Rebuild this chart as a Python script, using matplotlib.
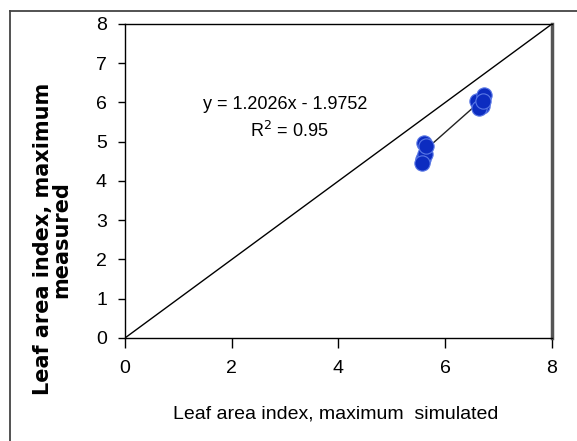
import numpy as np
import matplotlib.pyplot as plt
from matplotlib.lines import Line2D

# measured vs simulated maximum leaf area index
sim = [5.58, 5.62, 5.60, 5.57, 5.64, 6.60, 6.68, 6.72, 6.64, 6.70]
meas = [4.55, 4.70, 4.98, 4.45, 4.90, 6.05, 5.92, 6.18, 5.86, 6.05]
slope, intercept = 1.2026, -1.9752
r2 = 0.95
xticks = [0, 2, 4, 6, 8]
yticks = [0, 1, 2, 3, 4, 5, 6, 7, 8]

plt.rcParams['font.family'] = ['Liberation Sans', 'DejaVu Sans']

fig = plt.figure(figsize=(5.77, 4.41), dpi=100)
ax = fig.add_axes([0.2166, 0.2336, 0.740, 0.712])

# 1:1 line
ax.plot([0, 8], [0, 8], color='black', lw=1)

# trendline over the data range
xs = np.array([min(sim), max(sim)])
ax.plot(xs, slope * xs + intercept, color='#222222', lw=1)

ax.plot(sim, meas, 'o', ms=11, color='#0c2cc0', mec='#5a78e6', mew=0.8)

ax.set_xlim(0, 8)
ax.set_ylim(0, 8)
ax.set_xticks(xticks)
ax.set_yticks(yticks)
ax.tick_params(width=1, labelsize=14, direction='out')
ax.tick_params(axis='y', length=5, pad=8)
ax.tick_params(axis='x', length=7, pad=9)
for s in ax.spines.values():
    s.set_linewidth(1)
ax.spines['right'].set_color('#555555')
ax.spines['right'].set_linewidth(2.5)

ax.set_xlabel('Leaf area index, maximum  simulated', fontsize=14)
ax.xaxis.set_label_coords(0.494, -0.215)
ax.set_ylabel('Leaf area index, maximum\nmeasured', fontsize=15,
              fontweight='bold', family='DejaVu Sans', linespacing=0.85)
ax.yaxis.set_label_coords(-0.127, 0.315)

ax.text(0.375, 0.745, 'y = 1.2026x - 1.9752', transform=ax.transAxes,
        ha='center', va='center', fontsize=13)
ax.text(0.385, 0.66, 'R$^2$ = %.2f' % r2, transform=ax.transAxes,
        ha='center', va='center', fontsize=13)

# outer frame
fig.add_artist(Line2D([10 / 577, 10 / 577], [0, 1 - 11 / 441], color='#444444', lw=1.3))
fig.add_artist(Line2D([10 / 577, 1], [1 - 11 / 441, 1 - 11 / 441], color='#444444', lw=1.3))

fig.savefig('out.png', dpi=100)
